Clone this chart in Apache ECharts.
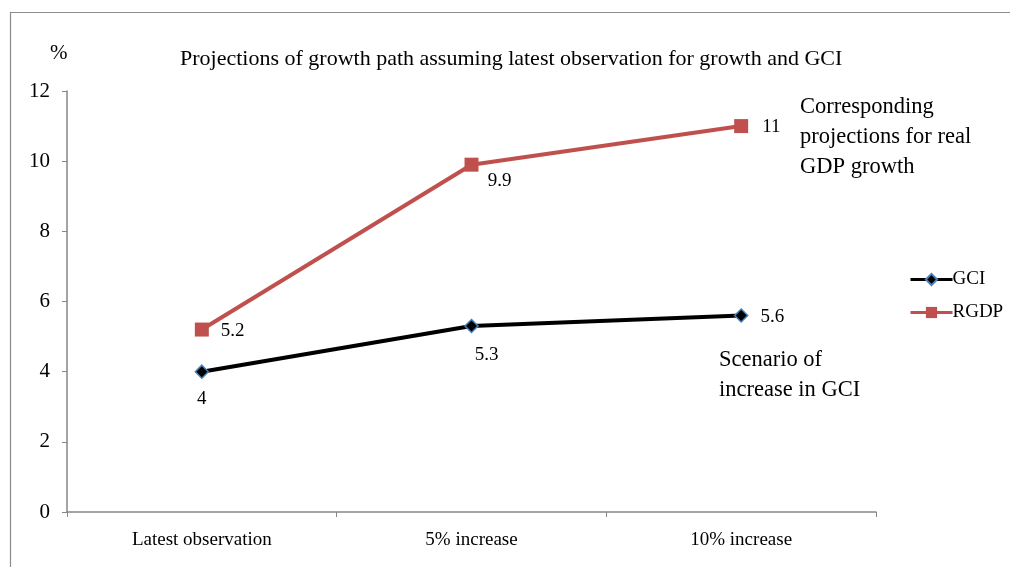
<!DOCTYPE html>
<html>
<head>
<meta charset="utf-8">
<script src="https://cdn.jsdelivr.net/npm/echarts@6/dist/echarts.min.js"></script>
<style>html,body{margin:0;padding:0;background:#fff}#c{width:1010px;height:567px}</style>
</head>
<body>
<div id="c"></div>
<script>
const categories = ['Latest observation', '5% increase', '10% increase'];
const gciValues = [4, 5.3, 5.6];
const rgdpValues = [5.2, 9.9, 11];
const yTicks = [0, 2, 4, 6, 8, 10, 12];

const FONT = '"Liberation Serif", "Times New Roman", serif';
const chart = echarts.init(document.getElementById('c'));
const gciLabelCfg = [
  {position: 'bottom', offset: [0, 6]},
  {position: 'bottom', offset: [15, 7]},
  {position: 'right', distance: 12, offset: [0, 1]}
];
const rgdpLabelCfg = [
  {position: 'right', distance: 12, offset: [0, 1]},
  {position: 'bottom', offset: [28, -5]},
  {position: 'right', distance: 14, offset: [0, 1]}
];
chart.setOption({
  backgroundColor: '#fff',
  animation: false,
  textStyle: {fontFamily: FONT},
  graphic: [
    {type: 'rect', shape: {x: 10.5, y: 12.5, width: 1100, height: 700}, style: {fill: 'none', stroke: '#8c8c8c', lineWidth: 1.2}, silent: true},
    {type: 'text', left: 50, top: 43, style: {text: '%', font: '21px ' + FONT, fill: '#000'}},
    {type: 'text', left: 180, top: 48, style: {text: 'Projections of growth path assuming latest observation for growth and GCI', font: '22px ' + FONT, fill: '#000'}},
    {type: 'text', left: 800, top: 92, style: {text: 'Corresponding\nprojections for real\nGDP growth', font: '22.5px ' + FONT, fill: '#000', lineHeight: 30}},
    {type: 'text', left: 719, top: 345, style: {text: 'Scenario of\nincrease in GCI', font: '22.5px ' + FONT, fill: '#000', lineHeight: 30}}
  ],
  grid: {left: 67, right: 134, top: 91, bottom: 55, containLabel: false},
  legend: {
    orient: 'vertical', left: 904, top: 265, itemWidth: 42, itemHeight: 14, itemGap: 14,
    lineStyle: {width: 3},
    textStyle: {fontFamily: FONT, fontSize: 19, color: '#000', padding: [0, 0, 0, -5]},
    data: ['GCI', 'RGDP']
  },
  xAxis: {
    type: 'category', data: categories, boundaryGap: true,
    axisLine: {lineStyle: {color: '#868686', width: 1.5}},
    axisTick: {show: true, interval: 0, length: 5, lineStyle: {color: '#868686'}},
    axisLabel: {fontFamily: FONT, fontSize: 19, color: '#000', margin: 19, interval: 0}
  },
  yAxis: {
    type: 'value', min: 0, max: 12, interval: 2,
    axisLine: {show: true, lineStyle: {color: '#868686', width: 1.5}},
    axisTick: {show: true, length: 5, lineStyle: {color: '#868686'}},
    splitLine: {show: false},
    axisLabel: {fontFamily: FONT, fontSize: 21, color: '#000', margin: 17,
      formatter: v => yTicks.includes(v) ? String(v) : ''}
  },
  series: [
    {
      name: 'GCI', type: 'line', data: gciValues.map((v, i) => ({value: v, label: gciLabelCfg[i]})),
      symbol: 'diamond', symbolSize: 13,
      lineStyle: {color: '#000', width: 4},
      itemStyle: {color: '#000', borderColor: '#4a7ebb', borderWidth: 1.5},
      label: {show: true, fontFamily: FONT, fontSize: 19, color: '#000'},
      z: 3
    },
    {
      name: 'RGDP', type: 'line', data: rgdpValues.map((v, i) => ({value: v, label: rgdpLabelCfg[i]})),
      symbol: 'rect', symbolSize: 14,
      lineStyle: {color: '#c0504d', width: 4},
      itemStyle: {color: '#c0504d', borderColor: '#c0504d', borderWidth: 0},
      label: {show: true, fontFamily: FONT, fontSize: 19, color: '#000'},
      z: 2
    }
  ]
});
</script>
</body>
</html>
